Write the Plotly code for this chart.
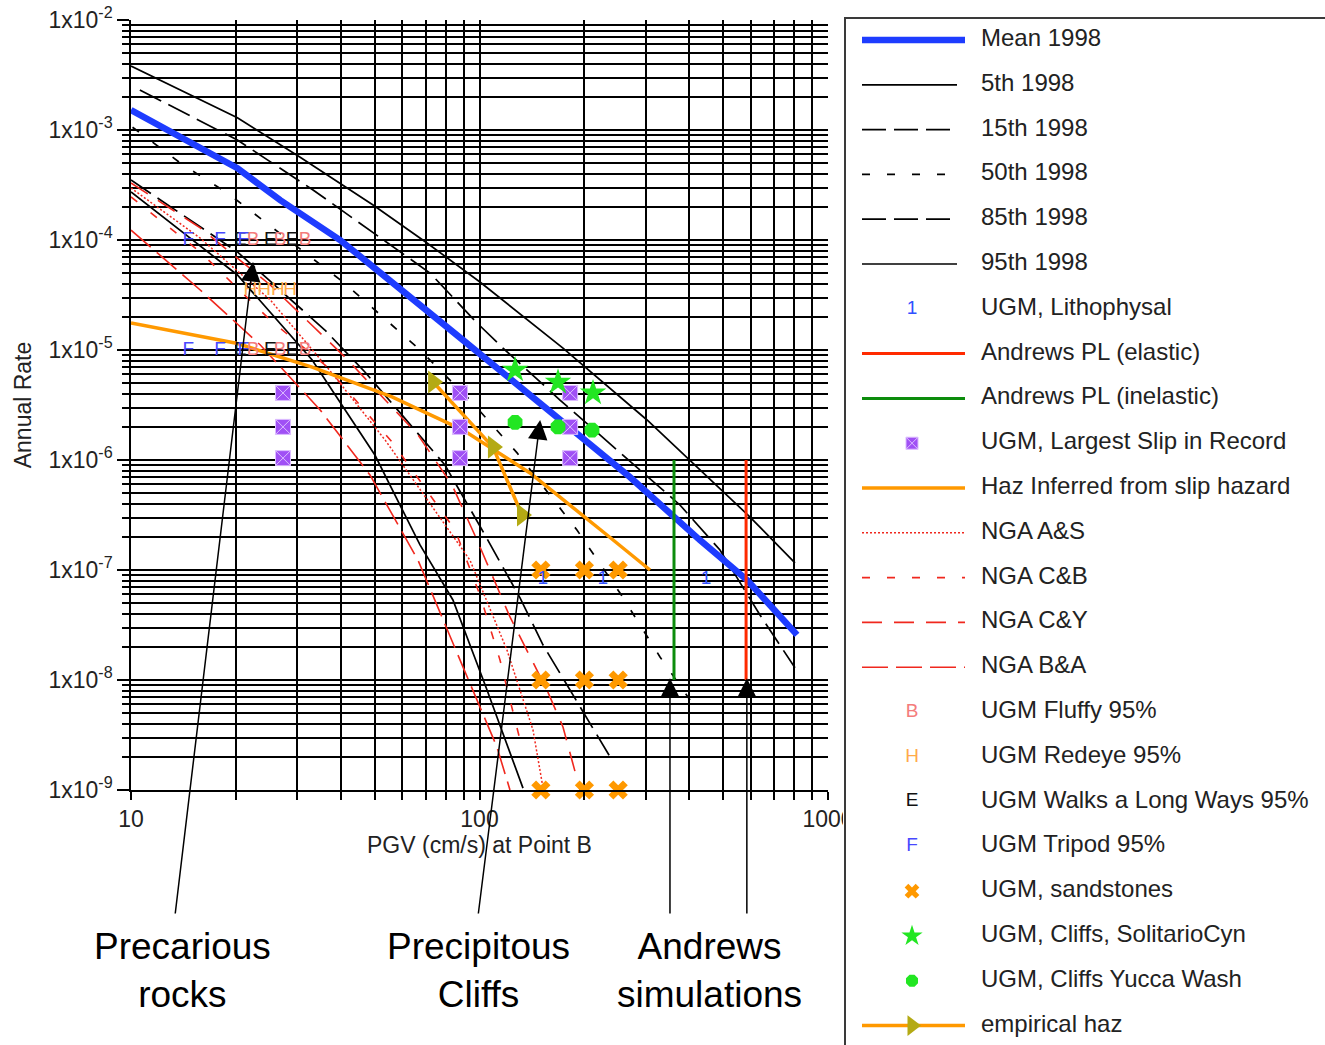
import numpy as np
import plotly.graph_objects as go

W, H = 1325, 1045
FONT = "Liberation Sans, Arial, Helvetica, sans-serif"
TXT = "#222222"

# ---------------- data (PGV cm/s, annual rate) ----------------
mean_x = [10, 20.2, 26.8, 39.8, 89.7, 270, 429, 586, 815]
mean_y = [1.52e-3, 4.5e-4, 2.3e-4, 1.0e-4, 1.23e-5, 7.0e-7, 1.87e-7, 8.1e-8, 2.57e-8]

p95_x = [10, 20.2, 30.5, 49.5, 70.7, 100.3, 173.6, 302.5, 597.5, 804]
p95_y = [3.82e-3, 1.29e-3, 5.69e-4, 2.08e-4, 9.39e-5, 4.15e-5, 1.04e-5, 2.31e-6, 3.03e-7, 1.16e-7]

p85_x = [10.6, 20.2, 33.3, 52.9, 72.1, 98.4, 116.8, 170.2, 253, 376, 489.8, 638, 804]
p85_y = [2.31e-3, 8.11e-4, 2.85e-4, 1.0e-4, 5.01e-5, 1.76e-5, 1.04e-5, 3.51e-6, 1.18e-6, 3.9e-7, 1.52e-7, 3.9e-8, 1.29e-8]

p50_x = [10.1, 14.1, 18.9, 40.6, 66.2, 93.9, 128.2, 190.4, 253, 329.6, 401.8]
p50_y = [1.06e-3, 4.81e-4, 2.68e-4, 4.15e-5, 1.06e-5, 3.51e-6, 1.16e-6, 2.31e-7, 6.18e-8, 1.62e-8, 6.58e-9]

p15_x = [10, 20.2, 36.0, 46.9, 59.9, 79.6, 103.7, 130.7, 152.2, 181.8, 240]
p15_y = [3.51e-4, 7.78e-5, 1.52e-5, 6.31e-6, 2.57e-6, 9.0e-7, 2.08e-7, 5.57e-8, 2.08e-8, 8.11e-9, 1.87e-9]

p05_x = [10, 20.2, 33.1, 50.1, 67.5, 83.9, 105.1, 133.3]
p05_y = [2.73e-4, 4.81e-5, 8.11e-6, 1.11e-6, 1.69e-7, 5.34e-8, 8.11e-9, 1.04e-9]

nga_as_x = [10, 15.8, 25.1, 37.7, 53.6, 73.1, 93.9, 119.9, 142.4, 152.2]
nga_as_y = [2.97e-4, 1.04e-4, 2.85e-5, 6.18e-6, 1.52e-6, 3.74e-7, 1.23e-7, 1.87e-8, 3.51e-9, 1.04e-9]

nga_cb_x = [10, 15.8, 25.1, 36.0, 56.1, 85.1, 100.3, 114.5, 130.7]
nga_cb_y = [2.46e-4, 7.78e-5, 1.87e-5, 7.31e-6, 1.46e-6, 2.31e-7, 5.93e-8, 1.52e-8, 2.85e-9]

nga_cy_x = [10, 15.8, 25.1, 41.1, 66.6, 83.4, 98.4, 122.3, 156.2, 173.6, 194.3]
nga_cy_y = [3.3e-4, 1.29e-4, 3.9e-5, 8.64e-6, 1.69e-6, 5.93e-7, 1.87e-7, 3.74e-8, 8.11e-9, 3.74e-9, 1.0e-9]

nga_ba_x = [10, 15.8, 23.5, 34.9, 48.5, 66.6, 89.7, 112.2, 122.3]
nga_ba_y = [1.23e-4, 3.51e-5, 1.11e-5, 2.85e-6, 7.31e-7, 1.23e-7, 1.31e-8, 2.46e-9, 1.0e-9]

slip_x = [10, 19.9, 33.1, 56.1, 89.7, 139.6, 232.2, 308.5]
slip_y = [1.76e-5, 1.16e-5, 7.0e-6, 3.74e-6, 1.87e-6, 7.62e-7, 2.08e-7, 1.0e-7]

emp_x = [73.6, 109.3, 132.4]
emp_y = [5.12e-6, 1.31e-6, 3.16e-7]

andrews_el_x = [582, 582]
andrews_el_y = [1e-6, 1e-8]
andrews_inel_x = [361.5, 361.5]
andrews_inel_y = [1e-6, 1e-8]

litho_x = [152, 226, 447]
litho_y = [1e-7, 1e-7, 1e-7]

slip_rec_x = [27.3, 27.3, 27.3, 87.9, 87.9, 87.9, 182, 182, 182]
slip_rec_y = [4.07e-6, 2.0e-6, 1.04e-6, 4.07e-6, 2.0e-6, 1.04e-6, 4.07e-6, 2.0e-6, 1.04e-6]

sand_x = [150, 200, 250, 150, 200, 250, 150, 200, 250]
sand_y = [1e-7, 1e-7, 1e-7, 1e-8, 1e-8, 1e-8, 1e-9, 1e-9, 1e-9]

solitario_x = [126.5, 168, 211.7]
solitario_y = [6.58e-6, 5.1e-6, 4.07e-6]

yucca_x = [126.5, 168, 210.3]
yucca_y = [2.2e-6, 2.0e-6, 1.87e-6]

fluffy_x = [22.4, 26.8, 31.6, 22.4, 26.8, 31.6]
fluffy_y = [1e-4, 1e-4, 1e-4, 1e-5, 1e-5, 1e-5]
redeye_x = [22.0, 24.1, 26.4, 28.6]
redeye_y = [3.5e-5, 3.5e-5, 3.5e-5, 3.5e-5]
walks_x = [20.6, 25.1, 29.0, 20.6, 25.1, 29.0]
walks_y = [1e-4, 1e-4, 1e-4, 1e-5, 1e-5, 1e-5]
tripod_x = [14.6, 18.0, 21.0, 14.6, 18.0, 21.0]
tripod_y = [1e-4, 1e-4, 1e-4, 1e-5, 1e-5, 1e-5]

y_tick_exp = [-9, -8, -7, -6, -5, -4, -3, -2]
x_tick_vals = [10, 100, 1000]
x_tick_text = ["10", "100", "1000"]

# ---------------- styles ----------------
BLUE = "#1e3cff"
RED = "#ff2a00"
NGA_RED = "#f0281e"
GREEN = "#0c8c0c"
ORANGE = "#ff9900"
PURPLE = "#a050f5"
LIME = "#22e622"
OLIVE = "#b4aa14"
BW = 1.7
GLYPH = 19

series = [
    dict(name="Mean 1998", kind="line", x=mean_x, y=mean_y, line=dict(color=BLUE, width=6.5)),
    dict(name="5th 1998", kind="line", x=p05_x, y=p05_y, line=dict(color="black", width=BW)),
    dict(name="15th 1998", kind="line", x=p15_x, y=p15_y, line=dict(color="black", width=BW, dash="24px,8px")),
    dict(name="50th 1998", kind="line", x=p50_x, y=p50_y, line=dict(color="black", width=BW, dash="8px,17px")),
    dict(name="85th 1998", kind="line", x=p85_x, y=p85_y, line=dict(color="black", width=BW, dash="24px,8px")),
    dict(name="95th 1998", kind="line", x=p95_x, y=p95_y, line=dict(color="black", width=BW)),
    dict(name="UGM, Lithophysal", kind="text", x=litho_x, y=litho_y, glyph="1", color="#3050ff", size=19, pos="bottom center"),
    dict(name="Andrews PL (elastic)", kind="line", x=andrews_el_x, y=andrews_el_y, line=dict(color=RED, width=3)),
    dict(name="Andrews PL (inelastic)", kind="line", x=andrews_inel_x, y=andrews_inel_y, line=dict(color=GREEN, width=3)),
    dict(name="UGM, Largest Slip in Record", kind="marker", x=slip_rec_x, y=slip_rec_y,
         marker=dict(symbol="square-x", size=15, color=PURPLE, line=dict(color="#dcbcff", width=1)), lsize=12),
    dict(name="Haz Inferred from slip hazard", kind="line", x=slip_x, y=slip_y, line=dict(color=ORANGE, width=3.5)),
    dict(name="NGA A&S", kind="line", x=nga_as_x, y=nga_as_y, line=dict(color=NGA_RED, width=1.5, dash="2px,2px")),
    dict(name="NGA C&B", kind="line", x=nga_cb_x, y=nga_cb_y, line=dict(color=NGA_RED, width=1.6, dash="8px,17px")),
    dict(name="NGA C&Y", kind="line", x=nga_cy_x, y=nga_cy_y, line=dict(color=NGA_RED, width=1.6, dash="20px,12px")),
    dict(name="NGA B&A", kind="line", x=nga_ba_x, y=nga_ba_y, line=dict(color=NGA_RED, width=1.6, dash="26px,8px")),
    dict(name="UGM Fluffy 95%", kind="text", x=fluffy_x, y=fluffy_y, glyph="B", color="#f47c7c", size=GLYPH),
    dict(name="UGM Redeye 95%", kind="text", x=redeye_x, y=redeye_y, glyph="H", color="#ffaa4a", size=GLYPH),
    dict(name="UGM Walks a Long Ways 95%", kind="text", x=walks_x, y=walks_y, glyph="E", color="#111111", size=GLYPH),
    dict(name="UGM Tripod 95%", kind="text", x=tripod_x, y=tripod_y, glyph="F", color="#4848ff", size=GLYPH),
    dict(name="UGM, sandstones", kind="marker", x=sand_x, y=sand_y,
         marker=dict(symbol="x", size=17, color=ORANGE, line=dict(width=0)), lsize=13),
    dict(name="UGM, Cliffs, SolitarioCyn", kind="marker", x=solitario_x, y=solitario_y,
         marker=dict(symbol="star", size=20, color=LIME, line=dict(width=0)), lsize=16),
    dict(name="UGM, Cliffs Yucca Wash", kind="marker", x=yucca_x, y=yucca_y,
         marker=dict(symbol="octagon", size=16, color=LIME, line=dict(width=0)), lsize=13),
    dict(name="empirical haz", kind="linemarker", x=emp_x, y=emp_y, line=dict(color=ORANGE, width=3.5),
         marker=dict(symbol="triangle-right", size=20, color=OLIVE, line=dict(width=0)), lsize=18),
]

# drawing order on the chart (lines first, markers/text on top)
draw_order = [1, 2, 3, 4, 5, 11, 12, 13, 14, 10, 22, 0, 7, 8, 9, 19, 20, 21, 6, 15, 16, 17, 18]

fig = go.Figure()
for i in draw_order:
    s = series[i]
    common = dict(x=s["x"], y=s["y"], name=s["name"], showlegend=False, hoverinfo="x+y+name")
    if s["kind"] == "line":
        fig.add_trace(go.Scatter(mode="lines", line=s["line"], **common))
    elif s["kind"] == "marker":
        fig.add_trace(go.Scatter(mode="markers", marker=s["marker"], cliponaxis=False, **common))
    elif s["kind"] == "linemarker":
        fig.add_trace(go.Scatter(mode="lines+markers", line=s["line"], marker=s["marker"], cliponaxis=False, **common))
    else:
        fig.add_trace(go.Scatter(mode="text", text=[s["glyph"]] * len(s["x"]),
                                 textposition=s.get("pos", "middle center"),
                                 textfont=dict(family=FONT, size=s["size"], color=s["color"]),
                                 cliponaxis=False, **common))

# ---------------- legend panel (drawn in its own pixel-like axes) ----------------
LEG_L, LEG_T = 845, 18
LEG_X0, LEG_X1, LEG_XM, LEG_TX = 862, 965, 912, 981
LEG_Y0, LEG_DY = 40, 44.8
rows = [LEG_Y0 + i * LEG_DY for i in range(len(series))]
for i, s in enumerate(series):
    ry = rows[i]
    if s["kind"] in ("line", "linemarker"):
        lw = dict(s["line"])
        x_end = LEG_X1 - 8 if lw["color"] == "black" else LEG_X1
        fig.add_trace(go.Scatter(x=[LEG_X0, x_end], y=[ry, ry], mode="lines", line=lw,
                                 xaxis="x2", yaxis="y2", showlegend=False, hoverinfo="skip"))
    if s["kind"] in ("marker", "linemarker"):
        m = dict(s["marker"])
        m["size"] = s["lsize"]
        fig.add_trace(go.Scatter(x=[LEG_XM], y=[ry], mode="markers", marker=m,
                                 xaxis="x2", yaxis="y2", showlegend=False, hoverinfo="skip"))
    if s["kind"] == "text":
        fig.add_trace(go.Scatter(x=[LEG_XM], y=[ry], mode="text", text=[s["glyph"]],
                                 textposition="middle center",
                                 textfont=dict(family=FONT, size=19, color=s["color"]),
                                 xaxis="x2", yaxis="y2", showlegend=False, hoverinfo="skip"))
fig.add_trace(go.Scatter(x=[LEG_TX] * len(series), y=rows, mode="text",
                         text=[s["name"] for s in series], textposition="middle right",
                         textfont=dict(family=FONT, size=24, color=TXT),
                         xaxis="x2", yaxis="y2", showlegend=False, hoverinfo="skip"))

# ---------------- axes ----------------
major_y = [10.0 ** e for e in y_tick_exp]
major_y_text = ["1x10<sup>%d</sup>" % e for e in y_tick_exp]
minor_y = [m * 10.0 ** e for e in range(-9, -2) for m in range(2, 10)]
minor_x = [m * 10.0 ** e for e in (1, 2) for m in range(2, 10)]

PLOT_L, PLOT_R, PLOT_T, PLOT_B = 131, 828, 20, 790
grid = dict(showgrid=True, gridcolor="black", gridwidth=1.7)

fig.update_layout(
    width=W, height=H,
    margin=dict(l=0, r=0, t=0, b=0),
    paper_bgcolor="white", plot_bgcolor="white",
    showlegend=False,
    font=dict(family=FONT, color=TXT),
    xaxis=dict(
        type="log", range=[1, 3], domain=[PLOT_L / W, PLOT_R / W], anchor="y",
        tickmode="array", tickvals=x_tick_vals, ticktext=x_tick_text,
        ticks="outside", ticklen=8, tickwidth=1.5, tickcolor="black",
        minor=dict(tickmode="array", tickvals=minor_x, ticks="outside", ticklen=8,
                   tickwidth=1.5, tickcolor="black", **grid),
        showline=True, linecolor="black", linewidth=1.5, zeroline=False,
        tickfont=dict(size=23, color=TXT, family=FONT), automargin=False,
        title=dict(text="PGV (cm/s) at Point B", font=dict(size=23, color=TXT, family=FONT), standoff=6),
        **grid),
    yaxis=dict(
        type="log", range=[-9, -2], domain=[(H - PLOT_B) / H, (H - PLOT_T) / H], anchor="x",
        tickmode="array", tickvals=major_y, ticktext=major_y_text,
        ticks="outside", ticklen=12, tickwidth=1.5, tickcolor="black",
        minor=dict(tickmode="array", tickvals=minor_y, ticks="outside", ticklen=7,
                   tickwidth=1.5, tickcolor="black", **grid),
        showline=True, linecolor="black", linewidth=1.5, zeroline=False,
        tickfont=dict(size=23, color=TXT, family=FONT), automargin=False,
        title=dict(text="Annual Rate", font=dict(size=23, color=TXT, family=FONT), standoff=10),
        **grid),
    xaxis2=dict(domain=[LEG_L / W, 1], range=[LEG_L, W], visible=False, anchor="y2", fixedrange=True),
    yaxis2=dict(domain=[0, 1], range=[H, 0], visible=False, anchor="x2", fixedrange=True),
    shapes=[
        dict(type="rect", xref="paper", yref="paper", x0=(LEG_L - 2) / W, x1=(LEG_L + 14) / W,
             y0=1 - 832 / H, y1=1 - 798 / H, fillcolor="white", line=dict(width=0), layer="above"),
        dict(type="path", xref="paper", yref="paper",
             path="M %f,%f L %f,%f L %f,%f" % (LEG_L / W, 0, LEG_L / W, 1 - LEG_T / H, 1, 1 - LEG_T / H),
             line=dict(color="#3a3a3a", width=2), layer="above"),
    ],
)

# ---------------- callout annotations ----------------
labels = [("Precarious<br>rocks", 182), ("Precipitous<br>Cliffs", 478), ("Andrews<br>simulations", 709)]
for txt, cx in labels:
    fig.add_annotation(text=txt, xref="paper", yref="paper", x=cx / W, y=1 - 970 / H,
                       xanchor="center", yanchor="middle", showarrow=False,
                       font=dict(size=37, color="black", family=FONT))

arrow_tip_x = [22.4, 149.3, 352, 585]
arrow_tip_y = [6.31e-5, 2.31e-6, 1.04e-8, 1.04e-8]
arrow_tail_dx = [-78, -62, 0, 0]
for tx, ty, dx in zip(arrow_tip_x, arrow_tip_y, arrow_tail_dx):
    tip_py = PLOT_T + (-2 - np.log10(ty)) * (PLOT_B - PLOT_T) / 7.0
    fig.add_annotation(x=np.log10(tx), y=np.log10(ty), xref="x", yref="y", text="",
                       showarrow=True, arrowhead=2, arrowsize=2.6, arrowwidth=1.5,
                       arrowcolor="black", ax=dx, ay=915 - tip_py, axref="pixel", ayref="pixel",
                       standoff=0)

fig.write_html("out.html", config={"displayModeBar": False},
               post_script="document.body.style.margin='0px';")
